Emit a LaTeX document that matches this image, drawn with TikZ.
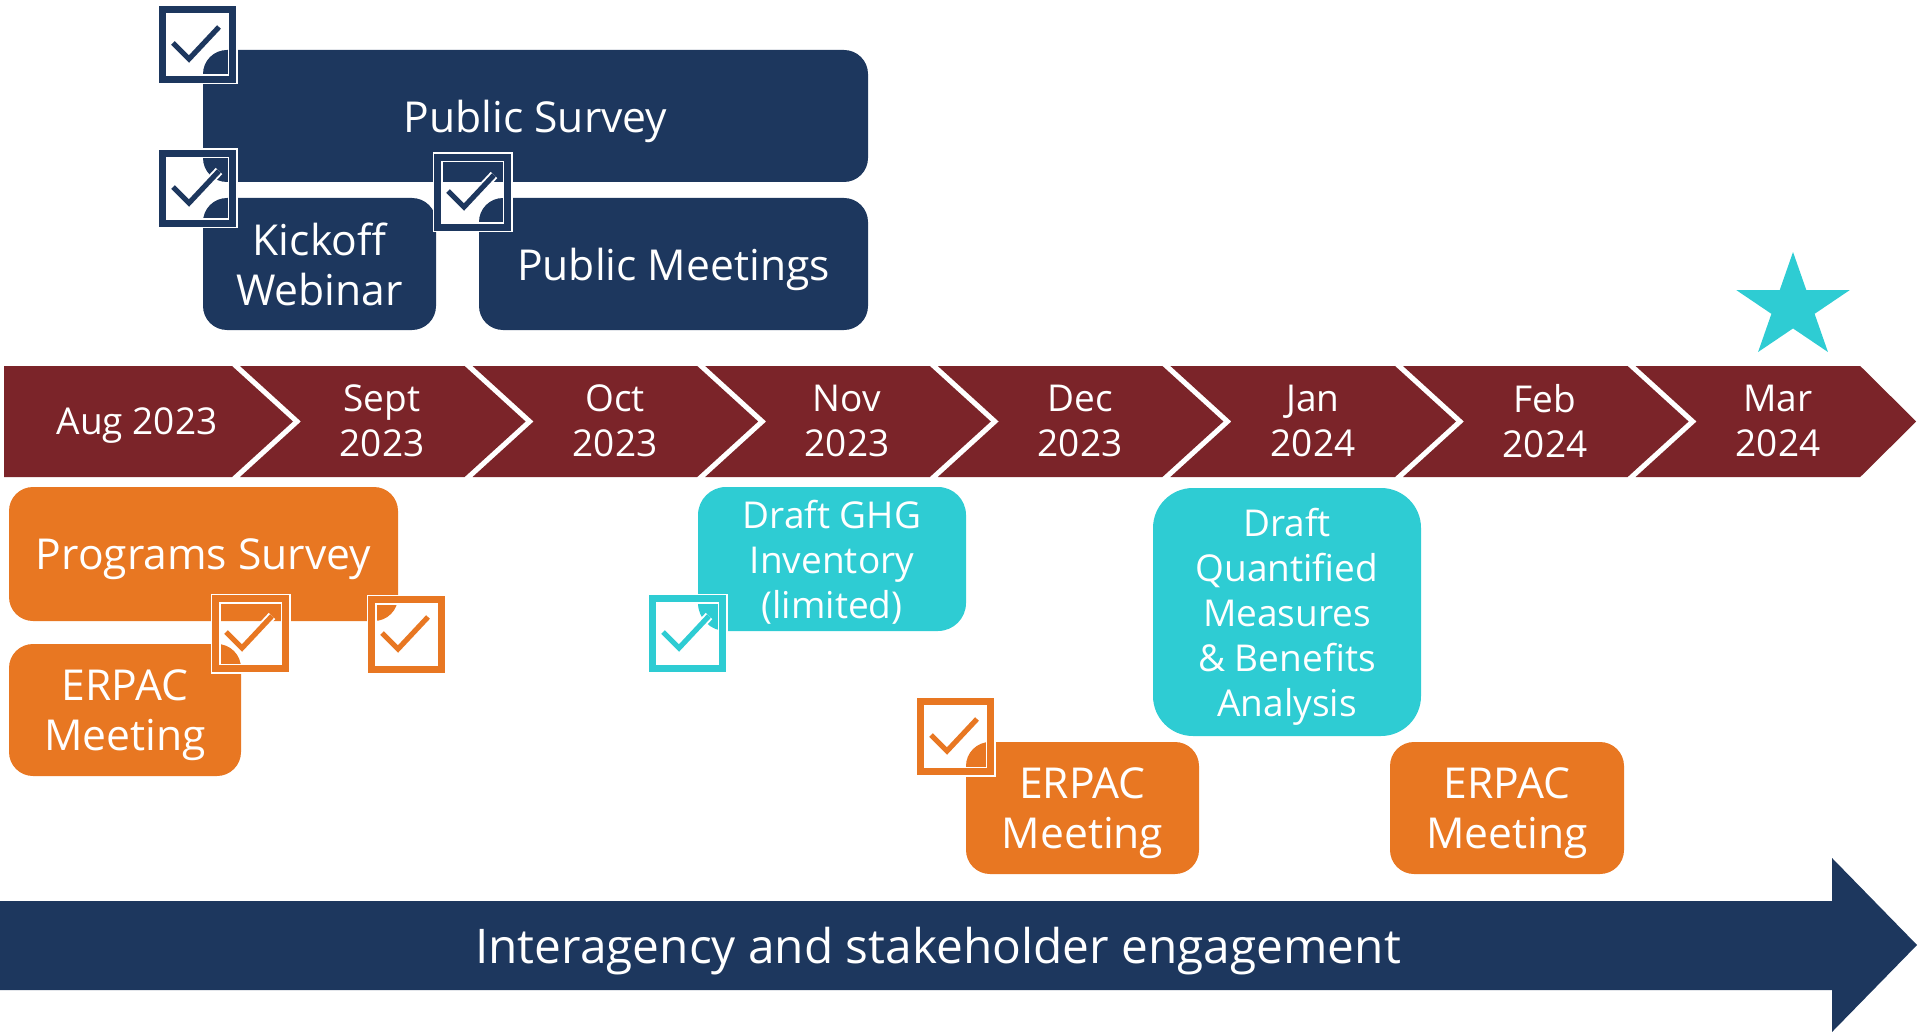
\documentclass[tikz,border=0pt]{standalone}
\usepackage{fontspec}
\setmainfont{Open Sans}
\usepackage{tikz}
\usetikzlibrary{shapes.geometric}

\definecolor{navy}{RGB}{29,55,94}
\definecolor{maroon}{RGB}{123,36,41}
\definecolor{orange}{RGB}{232,119,34}
\definecolor{teal}{RGB}{46,204,211}

% a ticked box, top left corner at (#1,#2)
\newcommand{\donebox}[3]{%
  \begin{scope}[shift={(#1,#2)}]
    \draw[white, line width=5pt] (3.5,3.5) rectangle (73.5,73.5);
    \draw[#3, line width=3.5pt] (3.5,3.5) rectangle (73.5,73.5);
    \draw[white, line width=4.5pt] (14,37) -- (30,53) -- (60,21);
    \draw[#3, line width=2.6pt] (14,37) -- (30,53) -- (60,21);
  \end{scope}}

\begin{document}
\begin{tikzpicture}[x=0.5pt, y=-0.5pt,
    box/.style={rounded corners=12pt, text=white, align=center, inner sep=0pt,
                text depth=0pt, font=\fontsize{21.3}{25}\selectfont},
    smallbox/.style={box, font=\fontsize{18.5}{22.5}\selectfont}]
	\useasboundingbox (0,0) rectangle (1920,1032);

	% months
	\fill[maroon] (4,366) -- (232,366) -- (293,421.5) -- (232,477) -- (4,477) -- cycle;
	\foreach \i/\d in {1/61,2/61,3/61,4/61,5/61,6/61,7/56} {
		\pgfmathsetmacro\xr{232+232.6*\i}
		\pgfmathsetmacro\xl{\xr-224.6}
		\fill[maroon] (\xl,366) -- (\xr,366) -- (\xr+\d,421.5) -- (\xr,477)
		              -- (\xl,477) -- (\xl+61,421.5) -- cycle;
	}
	\begin{scope}[every node/.style={text=white, align=center, text depth=0pt,
	              font=\fontsize{18.5}{22.5}\selectfont}]
		\node (aug) at (137,421) {Aug 2023};
		\node (sep) at (382,421) {Sept\\2023};
		\node (oct) at (615,421) {Oct\\2023};
		\node (nov) at (847,421) {Nov\\2023};
		\node (dec) at (1080,421) {Dec\\2023};
		\node (jan) at (1313,421) {Jan\\2024};
		\node (feb) at (1545,421) {Feb\\2024};
		\node (mar) at (1778,421) {Mar\\2024};
	\end{scope}
	\begin{scope}[shift={(1793,307.3)}, xscale=1.075]
		\node[star, star points=5, star point ratio=2.618, minimum size=55.3pt,
		      inner sep=0pt, fill=teal, transform shape] (goal) at (0,0) {};
	\end{scope}

	% public engagement
	\begin{scope}[every node/.style={box, fill=navy, minimum height=66pt}]
		\node[minimum width=332.5pt] (survey) at (535.5,116) {Public Survey};
		\node[minimum width=116.5pt] (kickoff) at (319.5,264) {Kickoff\\Webinar};
		\node[minimum width=194.5pt] (meetings) at (673.5,264) {Public Meetings};
	\end{scope}

	% erpac and programs
	\begin{scope}[every node/.style={box, fill=orange, minimum height=66pt}]
		\node[minimum width=194.5pt, minimum height=67pt] (programs) at (203.5,554) {Programs Survey};
		\node[minimum width=116pt] (erpac1) at (125,710) {ERPAC\\Meeting};
		\node[minimum width=116.5pt] (erpac2) at (1082.5,808) {ERPAC\\Meeting};
		\node[minimum width=117pt] (erpac3) at (1507,808) {ERPAC\\Meeting};
	\end{scope}

	% drafts
	\node[smallbox, fill=teal, rounded corners=14pt, minimum width=134pt,
	      minimum height=72pt] (ghg) at (832,559) {Draft GHG\\Inventory\\(limited)};
	\node[smallbox, fill=teal, rounded corners=20pt, minimum width=134pt,
	      minimum height=124pt] (measures) at (1287,612)
	      {Draft\\Quantified\\Measures\\\& Benefits\\Analysis};

	% done
	\donebox{159}{6}{navy}
	\donebox{159}{150}{navy}
	\donebox{434}{154}{navy}
	\donebox{212}{595}{orange}
	\donebox{368}{596}{orange}
	\donebox{649}{595}{teal}
	\donebox{917}{698}{orange}

	% engagement arrow
	\fill[navy] (0,901) -- (1832,901) -- (1832,858) -- (1917,945) -- (1832,1032)
	            -- (1832,990) -- (0,990) -- cycle;
	\node[text=white, text depth=0pt, font=\fontsize{23.9}{28}\selectfont] (engage)
	      at (938,945) {Interagency and stakeholder engagement};
\end{tikzpicture}
\end{document}
